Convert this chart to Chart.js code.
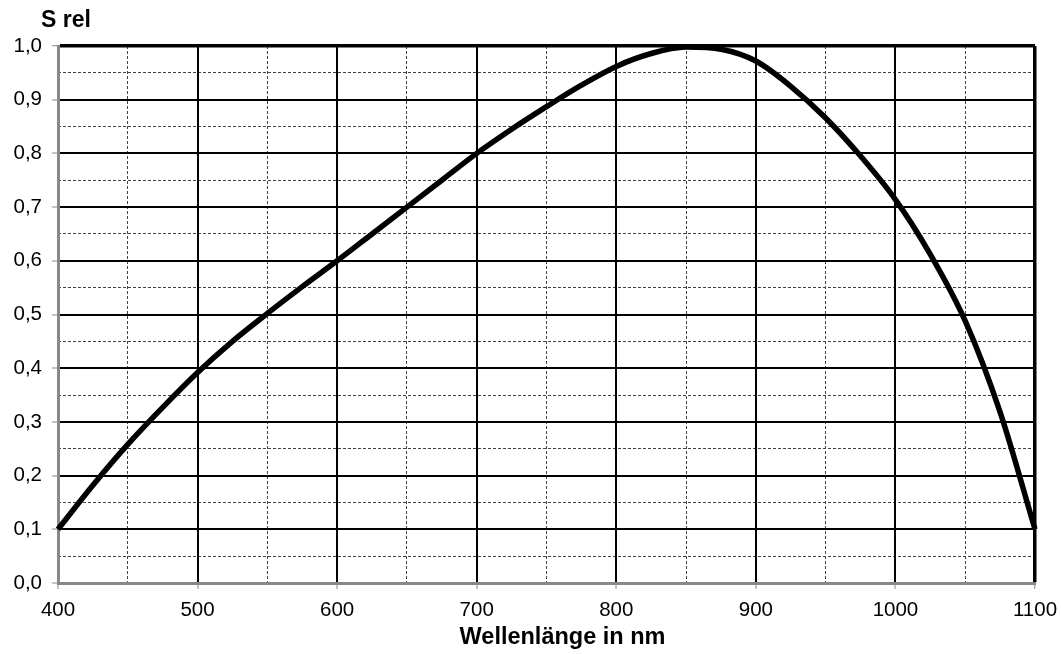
<!DOCTYPE html>
<html>
<head>
<meta charset="utf-8">
<script src="https://cdn.jsdelivr.net/npm/chart.js@4/dist/chart.umd.min.js"></script>
<style>
html,body{margin:0;padding:0;background:#fff;}
#wrap{width:1061px;height:654px;}
</style>
</head>
<body>
<div id="wrap"><canvas id="c" width="1061" height="654"></canvas></div>
<script>
// Wavelength (nm) and relative sensitivity
const wavelengths = [400, 425, 450, 475, 500, 525, 550, 575, 600, 625, 650, 675, 700, 725, 750, 775, 800, 825, 850, 875, 900, 925, 950, 975, 1000, 1025, 1050, 1075, 1100];
const sRel        = [0.100, 0.182, 0.258, 0.327, 0.392, 0.450, 0.502, 0.552, 0.600, 0.650, 0.700, 0.750, 0.800, 0.845, 0.887, 0.927, 0.962, 0.986, 0.998, 0.994, 0.972, 0.925, 0.866, 0.795, 0.714, 0.612, 0.488, 0.318, 0.100];
const xTicks = [400, 500, 600, 700, 800, 900, 1000, 1100];
const yTicks = [0.0, 0.1, 0.2, 0.3, 0.4, 0.5, 0.6, 0.7, 0.8, 0.9, 1.0];
const xTitle = 'Wellenlänge in nm';
const yTitle = 'S rel';

const FONT = "'Liberation Sans', Arial, sans-serif";
const points = wavelengths.map((w, i) => ({x: w, y: sRel[i]}));

const titlesPlugin = {
  id: 'titles',
  afterDraw(chart) {
    const {ctx, chartArea} = chart;
    ctx.save();
    ctx.fillStyle = '#000';
    ctx.textBaseline = 'middle';
    ctx.font = "bold 23px " + FONT;
    ctx.textAlign = 'left';
    ctx.fillText(yTitle, chartArea.left - 17, chartArea.top - 25);
    ctx.font = "bold 23.5px " + FONT;
    ctx.textAlign = 'center';
    ctx.fillText(xTitle, (chartArea.left + chartArea.right) / 2 + 16, chartArea.bottom + 55);
    ctx.restore();
  }
};

new Chart(document.getElementById('c'), {
  type: 'line',
  data: {
    datasets: [{
      data: points,
      borderColor: '#000',
      borderWidth: 5.5,
      pointRadius: 0,
      fill: false,
      cubicInterpolationMode: 'monotone',
      clip: false
    }]
  },
  options: {
    responsive: false,
    animation: false,
    events: [],
    layout: {padding: {left: 0, right: 26, top: 46, bottom: 0}},
    plugins: {legend: {display: false}, tooltip: {enabled: false}, title: {display: false}},
    scales: {
      xMinor: {
        type: 'linear', position: 'bottom', min: 400, max: 1100, z: -1,
        ticks: {display: false, stepSize: 50},
        grid: {color: '#444', lineWidth: 1, drawTicks: false},
        border: {display: false, dash: [3, 2]},
        afterFit(s) { s.height = 0; s.paddingLeft = 0; s.paddingRight = 0; }
      },
      yMinor: {
        type: 'linear', position: 'left', min: 0, max: 1, z: -1,
        ticks: {display: false, stepSize: 0.05},
        grid: {color: '#444', lineWidth: 1, drawTicks: false},
        border: {display: false, dash: [3, 2]},
        afterFit(s) { s.width = 0; s.paddingTop = 0; s.paddingBottom = 0; }
      },
      x: {
        type: 'linear', position: 'bottom', min: 400, max: 1100,
        afterBuildTicks(s) { s.ticks = xTicks.map(v => ({value: v})); },
        ticks: {color: '#000', font: {family: FONT, size: 20.5}, padding: 9, maxRotation: 0,
          callback: v => String(v)},
        grid: {
          color: '#000',
          lineWidth: ctx => (ctx.tick && ctx.tick.value === 1100) ? 3.5 : 2,
          tickLength: 6, tickColor: '#888', tickWidth: 1
        },
        border: {color: '#888', width: 3},
        afterFit(s) { s.height = 71; s.paddingLeft = 0; s.paddingRight = 0; }
      },
      y: {
        type: 'linear', position: 'left', min: 0, max: 1,
        afterBuildTicks(s) { s.ticks = yTicks.map(v => ({value: v})); },
        ticks: {color: '#000', font: {family: FONT, size: 20.5}, padding: 10,
          callback: v => Number(v).toFixed(1).replace('.', ',')},
        grid: {
          color: '#000',
          lineWidth: ctx => (ctx.tick && Math.abs(ctx.tick.value - 1) < 1e-9) ? 3.5 : 2,
          tickLength: 6, tickColor: '#888', tickWidth: 1
        },
        border: {color: '#888', width: 3},
        afterFit(s) { s.width = 58; s.paddingTop = 0; s.paddingBottom = 0; }
      }
    }
  },
  plugins: [titlesPlugin]
});
</script>
</body>
</html>
